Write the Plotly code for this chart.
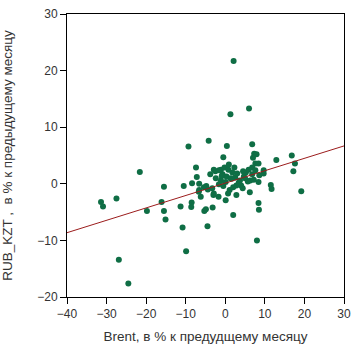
import plotly.graph_objects as go

# Brent monthly change, % (x) vs RUB/KZT monthly change, % (y)
brent = [2.1, 6.0, 1.3, -9.3, -4.2, 0.4, 6.8, 7.3, 7.9, -0.5,
         12.9, 16.8, 17.6, 17.2, 19.2, -21.6, -7.4, -7.2, -15.5, -10.5,
         -8.4, -27.5, 11.5, 11.7, 6.2, -3.8, -31.4, -30.9, -19.8, -16.1,
         -15.5, -15.1, -11.3, -10.8, -9.9, -8.5, -8.6, -5.3, -4.9, -4.5,
         -3.2, 0.1, 2.0, 8.4, 8.5, 8.0, -26.9, -24.5, 7.0, 7.6,
         8.4, 6.8, 9.7, 9.7, 6.8, 6.3, 7.2, 8.4, -6.6, -6.6,
         -4.8, -3.3, -6.2, -3.0, -1.7, 2.8, 1.1, 0.7, 2.0, 4.0,
         4.4, 2.8, 2.3, -2.5, -1.1, -0.2, 0.8, 1.8, -0.7, 0.3,
         1.3, 2.5, 3.0, -1.1, 0.1, -2.4, -1.6, 5.2, 5.9, 4.7,
         3.7, 5.7, 7.6, 8.6, 4.5, -2.9, -1.6, -6.7, -2.9, -0.5,
         -5.4, -4.4, 1.6, 3.4, 5.0, -0.9, 0.9]
rub_kzt = [21.7, 13.3, 12.3, 6.6, 7.6, 6.7, 7.0, 5.3, 5.2, 4.7,
           4.2, 5.0, 3.6, 2.2, -1.3, 2.1, 2.9, 1.2, -0.5, -0.4,
           0.1, -2.6, -0.2, -0.9, -1.5, 1.7, -3.2, -4.0, -4.8, -3.2,
           -4.8, -6.3, -4.0, -7.7, -11.9, -3.3, -4.1, -4.8, -4.5, -7.5,
           -4.2, -2.9, -5.5, -3.4, -4.6, -10.0, -13.4, -17.6, 4.6, 3.6,
           3.6, 2.9, 2.4, 1.8, 1.7, 0.6, 0.7, 0.3, 0.0, -1.1,
           -0.4, -0.8, -2.3, -2.0, -2.3, -2.0, -1.1, -1.7, -0.6, -0.3,
           -0.8, -0.3, 2.9, 2.2, 2.5, 2.9, 2.5, 2.0, 1.7, 1.3,
           1.0, 1.1, 1.8, 0.6, 0.3, 1.0, -0.1, 2.0, 2.5, 1.3,
           0.6, 0.4, 2.4, 1.5, 2.2, 2.5, 2.4, -1.4, -1.7, -0.4,
           -0.6, -1.0, 0.9, 0.2, 1.0, 1.4, 3.4]

# Linear fit: y = fit_intercept + fit_slope * x
fit_intercept = 0.12
fit_slope = 0.219
fit_x = [-40, 30]
fit_y = [fit_intercept + fit_slope * v for v in fit_x]

x_ticks = [-40, -30, -20, -10, 0, 10, 20, 30]
y_ticks = [-20, -10, 0, 10, 20, 30]

fig = go.Figure()
fig.add_trace(go.Scatter(
    x=brent, y=rub_kzt, mode="markers",
    marker=dict(color="#0f6e45", size=6, line=dict(width=0)),
    showlegend=False, hoverinfo="skip"))
fig.add_trace(go.Scatter(
    x=fit_x, y=fit_y, mode="lines",
    line=dict(color="#9b1c1c", width=1),
    showlegend=False, hoverinfo="skip"))

font_family = "Liberation Sans, Arial, sans-serif"
axis_common = dict(
    showgrid=False, zeroline=False, showline=True, linecolor="black",
    linewidth=1, mirror=True, ticks="outside", ticklen=6, tickwidth=1,
    tickcolor="black", ticklabeloverflow="allow",
    tickfont=dict(family=font_family, size=12, color="#333333"),
)
fig.update_layout(
    width=358, height=357,
    margin=dict(l=64, r=7, t=11, b=60),
    plot_bgcolor="white", paper_bgcolor="white",
    font=dict(family=font_family, size=12, color="#333333"),
    xaxis=dict(range=[-40, 30], tickvals=x_ticks, **axis_common,
               title=dict(text="Brent, в % к предудщему месяцу", standoff=11,
                          font=dict(size=13.5, color="#333333"))),
    yaxis=dict(range=[-20, 30], tickvals=y_ticks, **axis_common,
               title=dict(text="RUB_KZT ,  в % к предыдущему месяцу", standoff=21,
                          font=dict(size=13.5, color="#333333"))),
)
fig.write_html(
    "out.html",
    config={"displayModeBar": False},
    post_script="document.body.style.margin='0';document.body.style.overflow='hidden';",
)
